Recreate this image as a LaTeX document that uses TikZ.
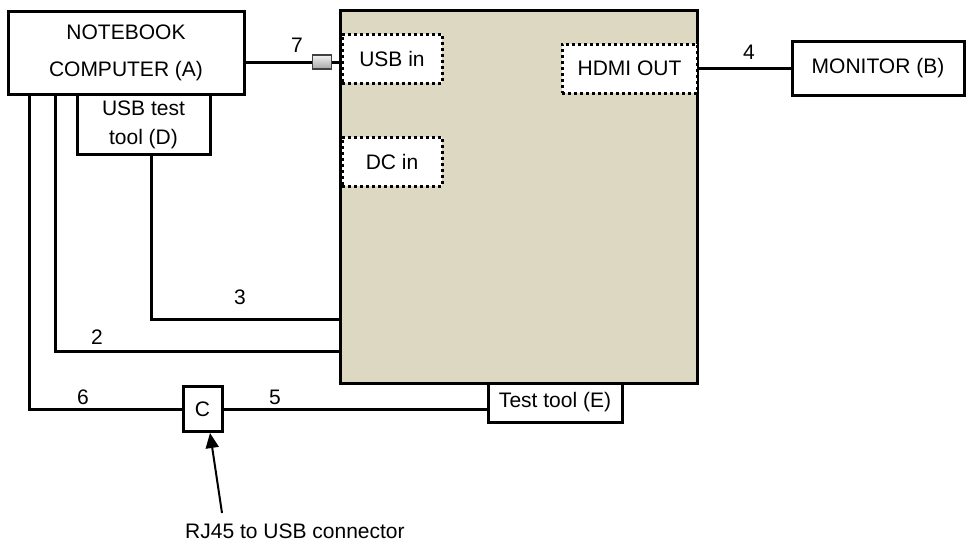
\documentclass[tikz,border=0pt]{standalone}
\usepackage{fontspec}
\setmainfont{Liberation Sans}
\usetikzlibrary{arrows.meta,calc}
\definecolor{boardfill}{RGB}{220,216,194}
\tikzset{
  base/.style={font=\fontsize{21}{25}\selectfont},
  box/.style={base,draw=black,line width=3pt,fill=white,inner sep=0pt,align=center},
  dotbox/.style={base,draw=black,line width=3pt,dash pattern=on 3pt off 3pt,fill=white,inner sep=0pt,align=center},
  wire/.style={draw=black,line width=3pt},
  lbl/.style={base,inner sep=0pt},
  pointer/.style={draw=black,line width=2pt,-{Triangle[length=15pt,width=13pt]}}
}
\begin{document}
\begin{tikzpicture}[x=1pt,y=-1pt]
\useasboundingbox (0,0) rectangle (968,547);
% main board
\node[draw=black,line width=3pt,fill=boardfill,minimum width=357pt,minimum height=373pt,inner sep=0pt] (main) at (518.5,196.5) {};
% ports
\node[dotbox,minimum width=100pt,minimum height=49pt] (usbin) at (392,58.5) {USB in};
\node[dotbox,minimum width=100pt,minimum height=49pt] (dcin) at (392,161.5) {DC in};
\node[dotbox,minimum width=135pt,minimum height=49pt] (hdmi) at (629.5,68.5) {HDMI OUT};
% other boxes
\node[box,minimum width=236pt,minimum height=83pt,font=\fontsize{21}{37}\selectfont] (A) at (126,52.5) {NOTEBOOK\\COMPUTER (A)};
\node[box,minimum width=172pt,minimum height=54pt] (B) at (878,68) {MONITOR (B)};
\node[box,minimum width=133pt,minimum height=60pt,font=\fontsize{21}{29}\selectfont] (D) at (143.5,124.5) {USB test\\tool (D)};
\node[box,minimum width=134pt,minimum height=39pt] (E) at (555,402.5) {Test tool (E)};
\node[box,minimum width=39pt,minimum height=45pt] (C) at (202.5,409) {C};
\node[draw=black!75,line width=1.5pt,top color=gray!10,bottom color=gray!70,minimum width=19pt,minimum height=14pt,inner sep=0pt] (plug) at (322,62) {};
% wires
\draw[wire] (plug.west) -- (plug.west -| A.east);
\draw[wire] (plug.east) -- (plug.east -| main.west);
\draw[wire] (hdmi.east) -- (hdmi.east -| B.west);
\coordinate (c3) at (151,319);
\coordinate (c2) at (55,351);
\coordinate (c6) at (29,409);
\draw[wire] (D.south -| c3) -- (c3) -- (c3 -| main.west);
\draw[wire] (A.south -| c2) -- (c2) -- (c2 -| main.west);
\draw[wire] (A.south -| c6) -- (c6) -- (C.west);
\draw[wire] (C.east) -- (C.east -| E.west);
% labels
\node[lbl] (n7) at (297,45) {7};
\node[lbl] (n4) at (749,52) {4};
\node[lbl] (n3) at (240,297) {3};
\node[lbl] (n2) at (97,337) {2};
\node[lbl] (n6) at (83,397) {6};
\node[lbl] (n5) at (275,397) {5};
% pointer
\node[lbl,anchor=west] (rj) at (185,531) {RJ45 to USB connector};
\coordinate (tail) at (222,513);
\draw[pointer] (tail) -- ([xshift=7.5pt]C.south);
\end{tikzpicture}
\end{document}
